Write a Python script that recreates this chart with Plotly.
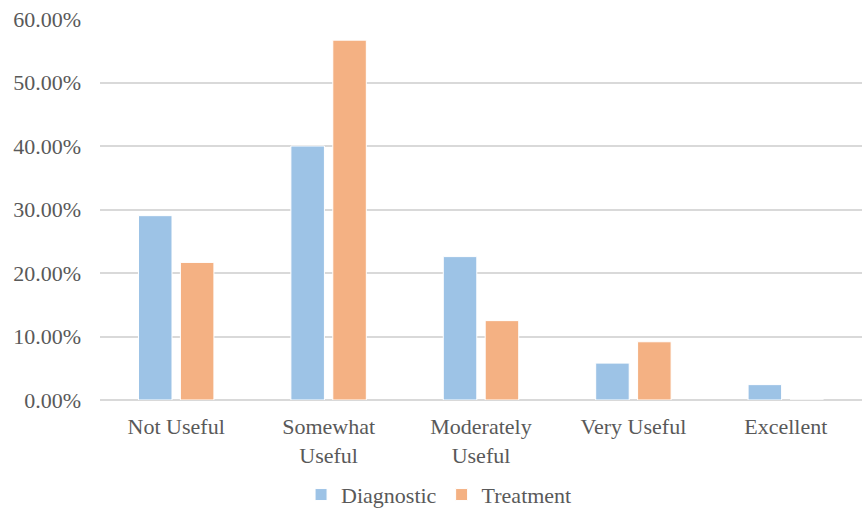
import plotly.graph_objects as go

categories = ["Not Useful", "Somewhat<br>Useful", "Moderately<br>Useful", "Very Useful", "Excellent"]
diagnostic = [0.2903, 0.40, 0.2258, 0.0581, 0.0242]
treatment = [0.2167, 0.5667, 0.1250, 0.0917, 0.0]
y_ticks = [0, 0.1, 0.2, 0.3, 0.4, 0.5, 0.6]

font_family = "Liberation Serif"
text_color = "#595959"
fs = 22

fig = go.Figure()
fig.add_trace(go.Bar(name="Diagnostic", x=categories, y=diagnostic,
                     marker=dict(color="#9DC3E6", line=dict(color="white", width=1))))
fig.add_trace(go.Bar(name="Treatment", x=categories, y=treatment,
                     marker=dict(color="#F4B183", line=dict(color="white", width=1))))

fig.update_layout(
    width=866, height=509,
    margin=dict(l=100, r=4, t=19, b=109),
    paper_bgcolor="white", plot_bgcolor="white",
    barmode="group", bargap=0.45, bargroupgap=0.2,
    font=dict(family=font_family, size=fs, color=text_color),
    showlegend=True,
    legend=dict(orientation="h", xref="container", yref="container",
                x=0.507, xanchor="center", y=0.028, yanchor="middle",
                font=dict(family=font_family, size=fs, color=text_color),
                tracegroupgap=0, borderwidth=0, itemwidth=30),
    xaxis=dict(showgrid=False, showline=False, ticks="", automargin=False,
               ticklabelstandoff=11,
               tickfont=dict(family=font_family, size=fs, color=text_color)),
    yaxis=dict(range=[0, 0.6], tickvals=y_ticks, tickformat=".2%", showgrid=True,
               gridcolor="#D9D9D9", gridwidth=1.5, zeroline=True, zerolinecolor="#D9D9D9",
               zerolinewidth=1.5, ticks="", ticklabelstandoff=18, automargin=False,
               tickfont=dict(family=font_family, size=fs, color=text_color)),
)

fig.write_html("out.html")
